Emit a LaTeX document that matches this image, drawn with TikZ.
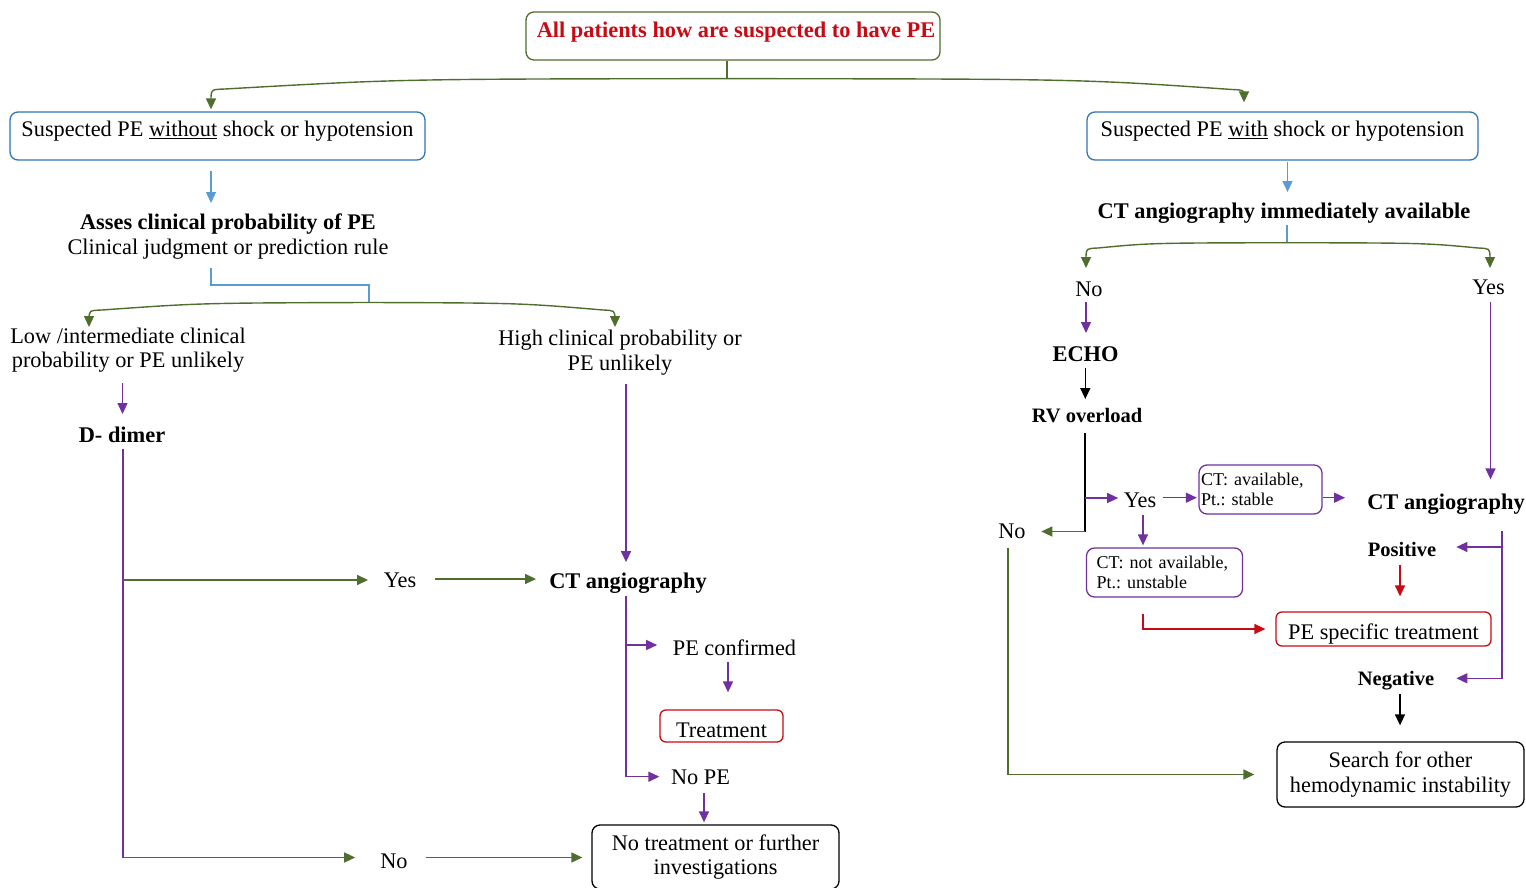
\documentclass[tikz,border=0pt]{standalone}
\usepackage{fontspec}
\setmainfont{Liberation Serif}
\usetikzlibrary{arrows.meta,calc}
\definecolor{gr}{RGB}{78,110,46}
\definecolor{pu}{RGB}{112,48,160}
\definecolor{bl}{RGB}{91,155,213}
\definecolor{bb}{RGB}{46,117,182}
\definecolor{rd}{RGB}{200,10,20}
\begin{document}
\frenchspacing
\begin{tikzpicture}[x=1pt,y=-1pt,
  every node/.style={inner sep=0pt, font=\fontsize{22.3}{24.6}\selectfont},
  lbl/.style={text height=14.7pt, text depth=0pt},
  lbb/.style={font=\fontsize{22.4}{24.6}\selectfont\bfseries, text height=14.8pt, text depth=0pt},
  lbs/.style={font=\fontsize{20.5}{24}\selectfont\bfseries, text height=13.6pt, text depth=0pt},
  bx/.style={draw, rounded corners=8pt, line width=1.3pt},
  ln/.style={line width=1.4pt},
  arw/.style={-{Triangle[length=11pt,width=10pt]}}
]
\useasboundingbox (0,0) rectangle (1526,888);

% ---------- nodes ----------
\node[bx, draw=gr, text=rd, font=\fontsize{22.4}{24.6}\selectfont\bfseries, minimum width=414pt, minimum height=48pt, text height=14.8pt, text depth=11pt] (top) at (733,36) {\hspace*{6pt}All patients how are suspected to have PE};
\node[bx, draw=bb, minimum width=415pt, minimum height=48pt, text height=14.7pt, text depth=13.4pt] (lbox) at (217.5,136) {Suspected PE \underline{without} shock or hypotension};
\node[bx, draw=bb, minimum width=391pt, minimum height=48pt, text height=14.7pt, text depth=13.4pt] (rbox) at (1282.5,136) {Suspected PE \underline{with} shock or hypotension};

\node[align=center] (assess) at (228,236.5) {\textbf{Asses clinical probability of PE}\\Clinical judgment or prediction rule};
\node[align=center] (low) at (128,350) {Low /intermediate clinical\\probability or PE unlikely};
\node[align=center] (high) at (620,352.4) {High clinical probability or\\PE unlikely};
\node[lbb] (ddimer) at (122,435.5) {D- dimer};
\node[lbl] (yes1) at (400,580) {Yes};
\node[lbb] (cta1) at (628,580.7) {CT angiography};
\node[lbl] (no1) at (394,861.5) {No};
\node[lbl] (peconf) at (734.5,648) {PE confirmed};
\node[bx, draw=rd, rounded corners=6pt, minimum width=123pt, minimum height=32pt, text height=22.7pt, text depth=0pt] (treat) at (721.5,726) {Treatment};
\node[lbl] (nope) at (700.5,777.5) {No PE};
\node[bx, draw=black, align=center, minimum width=247pt, minimum height=64pt] (notreat) at (715.5,857) {No treatment or further\\investigations};

\node[lbb] (ctimm) at (1284,210.7) {CT angiography immediately available};
\node[lbl] (no2) at (1089,289.3) {No};
\node[lbl] (yes2) at (1488.5,286.7) {Yes};
\node[lbb] (echo) at (1085.6,353.7) {ECHO};
\node[lbs] (rv) at (1087,416) {RV overload};
\node[lbl] (yes3) at (1140,499.7) {Yes};
\node[lbl] (no3) at (1012,531.5) {No};
\node[bx, draw=pu, font=\fontsize{18}{20}\selectfont, text width=119pt, align=left, inner xsep=2pt, minimum height=49pt] (ctav) at (1260.5,489.5) {CT: available,\\Pt.: stable};
\node[lbb] (cta2) at (1446,502) {CT angiography};
\node[bx, draw=pu, font=\fontsize{18}{20}\selectfont, text width=136pt, align=left, inner xsep=10pt, minimum height=49pt] (ctnot) at (1164.5,572.5) {CT: not available,\\Pt.: unstable};
\node[lbs] (positive) at (1402,550) {Positive};
\node[bx, draw=rd, rounded corners=6pt, minimum width=215pt, minimum height=34pt, text height=20.7pt, text depth=0pt] (pespec) at (1383.5,629) {PE specific treatment};
\node[lbs] (negative) at (1396,678.3) {Negative};
\node[bx, draw=black, align=center, minimum width=247pt, minimum height=65pt] (search) at (1400.5,774.5) {Search for other\\hemodynamic instability};

% ---------- top split ----------
\coordinate (j1) at ($(top.south)+(-6,18)$);
\draw[ln, color=gr] ($(top.south)+(-6,0)$) -- (j1);
\draw[ln, color=gr, arw] (j1) .. controls (400,79) .. (225,89) .. controls (211.5,89.5) .. (211,97) -- ($(lbox.north)+(-6.5,-2)$);
\draw[ln, color=gr, arw] (j1) .. controls (1080,79) .. (1232,89.5) .. controls (1243.5,90) .. (1244,95) -- ($(rbox.north)+(-38.5,-9)$);

% ---------- left branch ----------
\draw[ln, color=bl, arw] ($(lbox.south)+(-6.5,10)$) -- ($(assess)+(-17,-33.5)$);
\coordinate (j2) at ($(assess)+(141,66)$);
\draw[ln, color=bl] ($(assess)+(-17,31.5)$) |- ($(assess)+(141,48.5)$) -- (j2);
\draw[ln, color=gr, arw] (j2) .. controls (200,303) .. (102,310) .. controls (89.5,310.5) .. (89,318) -- ($(low)+(-39,-23)$);
\draw[ln, color=gr, arw] (j2) .. controls (520,303) .. (603,310) .. controls (614.5,310.5) .. (615,318) -- ($(high)+(-5,-25.4)$);

\draw[ln, color=pu, arw] ($(low)+(-5.5,33)$) -- ($(ddimer)+(0.5,-21.5)$);
\coordinate (dd) at ($(ddimer)+(1,0)$);
\coordinate (dl) at ($(ddimer)+(1,422)$);
\draw[ln, color=pu] ($(ddimer)+(1,13.5)$) -- (dl);
\draw[ln, color=gr, arw] (dd |- yes1) -- ($(yes1.west)+(-15.5,0)$);
\draw[ln, color=gr, arw] ($(yes1.east)+(19,-1)$) -- ($(cta1.west)+(-13,-1.7)$);
\draw[ln, color=gr, arw] (dl) -- ($(no1.west)+(-25,-4)$);
\draw[ln, color=gr, arw] ($(no1.east)+(18,-4)$) -- ($(notreat.west |- no1)+(-9,-4)$);

\draw[ln, color=pu, arw] ($(high)+(6,31.6)$) -- ($(cta1.north)+(-2,-11)$);
\coordinate (cc) at ($(cta1)+(-2,0)$);
\draw[ln, color=pu, arw] ($(cta1)+(-2,15.3)$) |- ($(nope.west)+(-11.5,-0.8)$);
\draw[ln, color=pu, arw] ($(cc |- peconf)+(0,-3)$) -- ($(peconf.west)+(-15.5,-3)$);
\draw[ln, color=pu, arw] ($(peconf)+(-6.5,14)$) -- ($(treat.north)+(6.5,-17)$);
\draw[ln, color=pu, arw] ($(nope)+(3.5,15.5)$) -- ($(notreat.north)+(-11.5,-2)$);

% ---------- right branch ----------
\draw[ln, color=bl, arw] ($(rbox.south)+(5,1)$) -- ($(ctimm)+(3.5,-18.7)$);
\coordinate (j3) at ($(ctimm)+(3,32)$);
\draw[ln, color=bl] ($(ctimm)+(3,14.3)$) -- (j3);
\draw[ln, color=gr, arw] (j3) .. controls (1150,243) .. (1098,248) .. controls (1086.5,248.5) .. (1086,256) -- ($(no2)+(-3,-21.3)$);
\draw[ln, color=gr, arw] (j3) .. controls (1425,243) .. (1478,248) .. controls (1489.5,248.5) .. (1490,256) -- ($(yes2)+(1.5,-18.7)$);

\draw[ln, color=pu, arw] ($(no2)+(-3,12.7)$) -- ($(echo)+(0.4,-20.7)$);
\draw[ln, arw] ($(echo)+(-0.3,14)$) -- ($(rv)+(-1.7,-17)$);
\coordinate (j4) at ($(rv)+(-2,115.5)$);
\draw[ln] ($(rv)+(-2,17)$) -- (j4);
\draw[ln, color=gr, arw] (j4) -- ($(no3.east)+(15.5,0)$);
\draw[ln, color=pu, arw] ($(rv)+(-2,82)$) -- ($(yes3.west)+(-5.4,-1.7)$);
\draw[ln, color=pu, arw] ($(yes3.east)+(7,-2)$) -- ($(ctav.west |- yes3)+(-1.5,-2)$);
\draw[ln, color=pu, arw] ($(ctav.east |- yes3)+(0,-2)$) -- ($(cta2.west |- yes3)+(-22,-2)$);
\draw[ln, color=pu, arw] ($(yes3)+(3,15.3)$) -- ($(ctnot.north)+(-21.5,-2)$);
\draw[ln, color=rd, arw] ($(ctnot.south)+(-21.5,16)$) |- ($(pespec.west)+(-10,0)$);
\draw[ln, color=pu, arw] ($(yes2)+(2,15.3)$) -- ($(cta2.north)+(44.5,-15)$);
\draw[ln, color=pu, arw] ($(cta2)+(56,29)$) |- ($(negative.east)+(22,0)$);
\draw[ln, color=pu, arw] ($(cta2)+(56,45)$) -- ($(positive.east)+(20,-3)$);
\draw[ln, color=rd, arw] ($(positive)+(-2,15)$) -- ($(pespec.north)+(16.5,-15)$);
\draw[ln, arw] ($(negative)+(4,15.7)$) -- ($(search.north)+(-0.5,-16)$);
\draw[ln, color=gr, arw] ($(no3)+(-4,16.3)$) |- ($(search.west)+(-22,0)$);
\end{tikzpicture}
\end{document}
